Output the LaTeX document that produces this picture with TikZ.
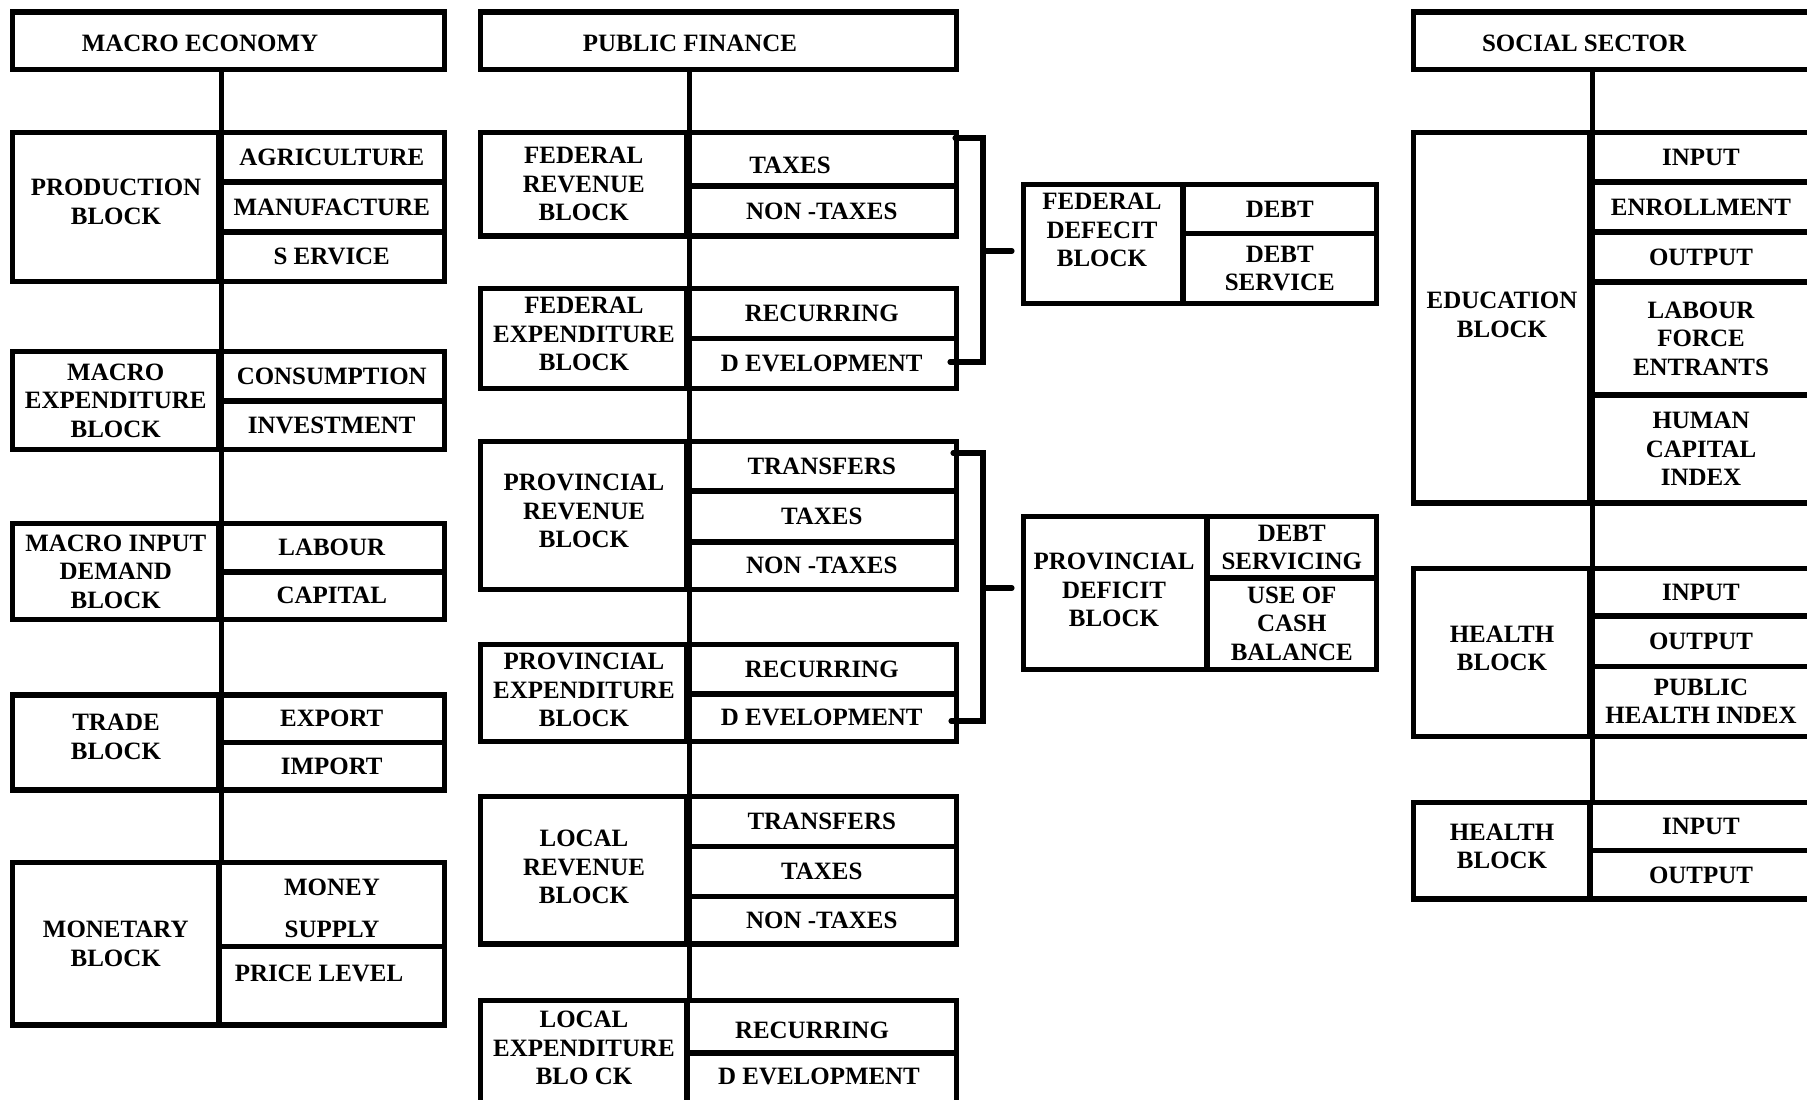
\documentclass[tikz,border=0pt]{standalone}
\usepackage{fontspec}
\setmainfont{Liberation Serif}
\usetikzlibrary{calc, positioning, fit}
\newcommand{\blockfont}{\fontsize{14.2pt}{16.2pt}\selectfont\bfseries}

\begin{document}
\begin{tikzpicture}[x=0.02cm, y=-0.02cm,
	cell/.style={draw, line width=3.1pt, inner sep=0pt},
	txt/.style={inner sep=0pt, align=center, font=\blockfont},
	spine/.style={draw, line width=3.1pt},
	bracket/.style={draw, line width=2.9pt, line cap=round}]

	\useasboundingbox (0,0) rectangle (1807,1099);
	\fill[white] (0,0) rectangle (1807,1099);

	% macro economy
	\node[cell, fit={(12.5,12) (444.5,69.5)}]     (me)     {}; \node[txt] at (200,43)   (meT)     {MACRO ECONOMY};
	\node[cell, fit={(12.5,132.5) (219,281.5)}]   (prodL)  {}; \node[txt] at (116,202)  (prodT)   {PRODUCTION\\BLOCK};
	\node[cell, fit={(219,132.5) (444.5,182)}]    (agri)   {}; \node[txt] at (agri)     (agriT)   {AGRICULTURE};
	\node[cell, fit={(219,182) (444.5,232)}]      (manu)   {}; \node[txt] at (manu)     (manuT)   {MANUFACTURE};
	\node[cell, fit={(219,232) (444.5,281.5)}]    (serv)   {}; \node[txt] at (serv)     (servT)   {S ERVICE};
	\node[cell, fit={(12.5,351.5) (219,449.5)}]   (mexpL)  {}; \node[txt] at (mexpL)    (mexpT)   {MACRO\\EXPENDITURE\\BLOCK};
	\node[cell, fit={(219,351.5) (444.5,401)}]    (cons)   {}; \node[txt] at (cons)     (consT)   {CONSUMPTION};
	\node[cell, fit={(219,401) (444.5,449.5)}]    (inv)    {}; \node[txt] at (inv)      (invT)    {INVESTMENT};
	\node[cell, fit={(12.5,523.5) (219,619.5)}]   (minL)   {}; \node[txt] at (minL)     (minT)    {MACRO INPUT\\DEMAND\\BLOCK};
	\node[cell, fit={(219,523.5) (444.5,572)}]    (lab)    {}; \node[txt] at (lab)      (labT)    {LABOUR};
	\node[cell, fit={(219,572) (444.5,619.5)}]    (capi)   {}; \node[txt] at (capi)     (capiT)   {CAPITAL};
	\node[cell, fit={(12.5,695) (219,790)}]       (tradeL) {}; \node[txt] at (116,737)  (tradeT)  {TRADE\\BLOCK};
	\node[cell, fit={(219,695) (444.5,742.5)}]    (expo)   {}; \node[txt] at (expo)     (expoT)   {EXPORT};
	\node[cell, fit={(219,742.5) (444.5,790)}]    (impo)   {}; \node[txt] at (impo)     (impoT)   {IMPORT};
	\node[cell, fit={(12.5,862.5) (219,1025)}]    (monL)   {}; \node[txt] at (monL)     (monT)    {MONETARY\\BLOCK};
	\node[cell, fit={(219,862.5) (444.5,946.5)}]  (money)  {}; \node[txt] at (332,908)  (moneyT)  {MONEY\\[7.7pt]SUPPLY};
	\node[cell, fit={(219,946.5) (444.5,1025)}]   (price)  {}; \node[txt] at (319,973)  (priceT)  {PRICE LEVEL};
	\draw[spine] (me.south -| prodL.east) -- (monL.north east);

	% public finance
	\node[cell, fit={(480.5,12) (956.5,69.5)}]    (pf)     {}; \node[txt] at (690,43)   (pfT)     {PUBLIC FINANCE};
	\node[cell, fit={(480.5,132.5) (687,236)}]    (frevL)  {}; \node[txt] at (frevL)    (frevT)   {FEDERAL\\REVENUE\\BLOCK};
	\node[cell, fit={(687,132.5) (956.5,186)}]    (ftax)   {}; \node[txt] at (790,165)  (ftaxT)   {TAXES};
	\node[cell, fit={(687,186) (956.5,236)}]      (fntax)  {}; \node[txt] at (fntax)    (fntaxT)  {NON -TAXES};
	\node[cell, fit={(480.5,288.5) (687,388.5)}]  (fexpL)  {}; \node[txt] at (584,334)  (fexpT)   {FEDERAL\\EXPENDITURE\\BLOCK};
	\node[cell, fit={(687,288.5) (956.5,338.5)}]  (frec)   {}; \node[txt] at (frec)     (frecT)   {RECURRING};
	\node[cell, fit={(687,338.5) (956.5,388.5)}]  (fdev)   {}; \node[txt] at (fdev)     (fdevT)   {D EVELOPMENT};
	\node[cell, fit={(480.5,441.5) (687,589.5)}]  (prevL)  {}; \node[txt] at (584,511)  (prevT)   {PROVINCIAL\\REVENUE\\BLOCK};
	\node[cell, fit={(687,441.5) (956.5,491)}]    (ptr)    {}; \node[txt] at (ptr)      (ptrT)    {TRANSFERS};
	\node[cell, fit={(687,491) (956.5,542)}]      (ptax)   {}; \node[txt] at (ptax)     (ptaxT)   {TAXES};
	\node[cell, fit={(687,542) (956.5,589.5)}]    (pntax)  {}; \node[txt] at (pntax)    (pntaxT)  {NON -TAXES};
	\node[cell, fit={(480.5,644.5) (687,741.5)}]  (pexpL)  {}; \node[txt] at (584,690)  (pexpT)   {PROVINCIAL\\EXPENDITURE\\BLOCK};
	\node[cell, fit={(687,644.5) (956.5,694)}]    (prec)   {}; \node[txt] at (prec)     (precT)   {RECURRING};
	\node[cell, fit={(687,694) (956.5,741.5)}]    (pdev)   {}; \node[txt] at (pdev)     (pdevT)   {D EVELOPMENT};
	\node[cell, fit={(480.5,796.5) (687,944)}]    (lrevL)  {}; \node[txt] at (584,867)  (lrevT)   {LOCAL\\REVENUE\\BLOCK};
	\node[cell, fit={(687,796.5) (956.5,846.5)}]  (ltr)    {}; \node[txt] at (ltr)      (ltrT)    {TRANSFERS};
	\node[cell, fit={(687,846.5) (956.5,896.5)}]  (ltax)   {}; \node[txt] at (ltax)     (ltaxT)   {TAXES};
	\node[cell, fit={(687,896.5) (956.5,944)}]    (lntax)  {}; \node[txt] at (lntax)    (lntaxT)  {NON -TAXES};
	\node[cell, fit={(480.5,1000.5) (687,1106)}]  (lexpL)  {}; \node[txt] at (584,1048) (lexpT)   {LOCAL\\EXPENDITURE\\BLO CK};
	\node[cell, fit={(687,1000.5) (956.5,1053)}]  (lrec)   {}; \node[txt] at (812,1030) (lrecT)   {RECURRING};
	\node[cell, fit={(687,1053) (956.5,1106)}]    (ldev)   {}; \node[txt] at (819,1076) (ldevT)   {D EVELOPMENT};
	\draw[spine] (pf.south -| frevL.east) -- (lexpL.north east);

	% deficit blocks
	\node[cell, fit={(1023.5,184.5) (1183,303.5)}]  (fdL)    {}; \node[txt] at (1102,230) (fdT)     {FEDERAL\\DEFECIT\\BLOCK};
	\node[cell, fit={(1183,184.5) (1376.5,233.6)}]  (fdebt)  {}; \node[txt] at (fdebt)    (fdebtT)  {DEBT};
	\node[cell, fit={(1183,233.6) (1376.5,303.5)}]  (fdserv) {}; \node[txt] at (fdserv)   (fdservT) {DEBT\\SERVICE};
	\node[cell, fit={(1023.5,516.5) (1207,669.5)}]  (pdL)    {}; \node[txt] at (1114,590) (pdT)     {PROVINCIAL\\DEFICIT\\BLOCK};
	\node[cell, fit={(1207,516.5) (1376.5,578)}]    (pdebt)  {}; \node[txt] at (pdebt)    (pdebtT)  {DEBT\\SERVICING};
	\node[cell, fit={(1207,578) (1376.5,669.5)}]    (pcash)  {}; \node[txt] at (pcash)    (pcashT)  {USE OF\\CASH\\BALANCE};

	\coordinate (fb1) at (955,138);
	\coordinate (fb2) at (983,362);
	\coordinate (fb3) at (950,362);
	\coordinate (fbMid) at (983,251);
	\coordinate (fbTip) at (1012,251);
	\draw[bracket] (fb1) -| (fb2) -- (fb3);
	\draw[bracket] (fbMid) -- (fbTip);

	\coordinate (pb1) at (953,453);
	\coordinate (pb2) at (983,721);
	\coordinate (pb3) at (951,721);
	\coordinate (pbMid) at (983,588);
	\coordinate (pbTip) at (1012,588);
	\draw[bracket] (pb1) -| (pb2) -- (pb3);
	\draw[bracket] (pbMid) -- (pbTip);

	% social sector
	\node[cell, fit={(1413.5,12) (1812,69.5)}]     (ss)     {}; \node[txt] at (1584,43)   (ssT)     {SOCIAL SECTOR};
	\node[cell, fit={(1413.5,132.5) (1590,503)}]   (eduL)   {}; \node[txt] at (1502,315)  (eduT)    {EDUCATION\\BLOCK};
	\node[cell, fit={(1590,132.5) (1812,182)}]     (einp)   {}; \node[txt] at (einp)      (einpT)   {INPUT};
	\node[cell, fit={(1590,182) (1812,232)}]       (eenr)   {}; \node[txt] at (eenr)      (eenrT)   {ENROLLMENT};
	\node[cell, fit={(1590,232) (1812,282)}]       (eout)   {}; \node[txt] at (eout)      (eoutT)   {OUTPUT};
	\node[cell, fit={(1590,282) (1812,395)}]       (elab)   {}; \node[txt] at (elab)      (elabT)   {LABOUR\\FORCE\\ENTRANTS};
	\node[cell, fit={(1590,395) (1812,503)}]       (ehci)   {}; \node[txt] at (ehci)      (ehciT)   {HUMAN\\CAPITAL\\INDEX};
	\node[cell, fit={(1413.5,568.5) (1590,736.5)}] (hoL)    {}; \node[txt] at (1502,648.5) (hoT)    {HEALTH\\BLOCK};
	\node[cell, fit={(1590,568.5) (1812,616)}]     (hoinp)  {}; \node[txt] at (hoinp)     (hoinpT)  {INPUT};
	\node[cell, fit={(1590,616) (1812,666.5)}]     (hoout)  {}; \node[txt] at (hoout)     (hooutT)  {OUTPUT};
	\node[cell, fit={(1590,666.5) (1812,736.5)}]   (hophi)  {}; \node[txt] at (hophi)     (hophiT)  {PUBLIC\\HEALTH INDEX};
	\node[cell, fit={(1413.5,802.5) (1590,899)}]   (htL)    {}; \node[txt] at (1502,846.5) (htT)    {HEALTH\\BLOCK};
	\node[cell, fit={(1590,802.5) (1812,850.7)}]   (htinp)  {}; \node[txt] at (htinp)     (htinpT)  {INPUT};
	\node[cell, fit={(1590,850.7) (1812,899)}]     (htout)  {}; \node[txt] at (htout)     (htoutT)  {OUTPUT};
	\draw[spine] (ss.south -| eduL.east) -- (htL.north east);

\end{tikzpicture}
\end{document}
